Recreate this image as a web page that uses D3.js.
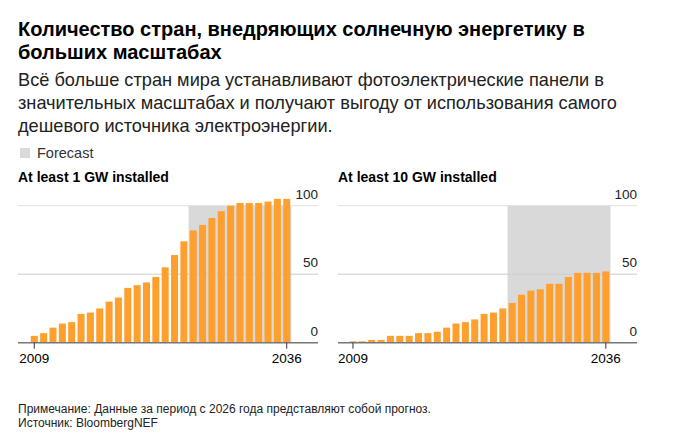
<!DOCTYPE html><html><head><meta charset="utf-8"><script src="https://cdn.jsdelivr.net/npm/d3@7"></script>
<style>body{margin:0;background:#fff;font-family:"Liberation Sans",Arial,sans-serif}</style></head><body><svg id="c" width="685" height="444"></svg>
<script>
const years = d3.range(2009, 2037);
const oneGW = [5,7,11,14,15,21,22,25,30,33,40,42,44,48,55,64,74,82,86,91,96,100,102,102,102,103,105,105];
const tenGW = [1,1,2,2,5,5,5,7,7,8,11,14,15,17,21,22,25,29,35,38,39,43,43,48,51,51,51,52];
const yTicks = [0,50,100];
const forecastStart = 2026;
const panels = [{title:"At least 1 GW installed", values:oneGW, gx0:18, gx1:318, bx0:29.6, bx1:291.4},
                {title:"At least 10 GW installed", values:tenGW, gx0:338, gx1:637, bx0:348.3, bx1:610.5}];
const svg = d3.select("#c");
const txt=(x,y,s,o={})=>svg.append("text").attr("x",x).attr("y",y).text(s).attr("font-size",o.size||13).attr("font-weight",o.w||"normal").attr("fill",o.fill||"#000").attr("text-anchor",o.a||"start");
txt(18,36,"Количество стран, внедряющих солнечную энергетику в",{size:20,w:"bold"});
txt(18,59,"больших масштабах",{size:20,w:"bold"});
["Всё больше стран мира устанавливают фотоэлектрические панели в","значительных масштабах и получают выгоду от использования самого","дешевого источника электроэнергии."].forEach((s,i)=>txt(18,86+i*23,s,{size:18.2,fill:"#222"}));
svg.append("rect").attr("x",20).attr("y",148).attr("width",10).attr("height",10).attr("fill","#d9d9d9");
txt(37,158,"Forecast",{size:14.5,fill:"#333"});
txt(18,413,"Примечание: Данные за период с 2026 года представляют собой прогноз.",{size:12,fill:"#222"});
txt(18,427,"Источник: BloombergNEF",{size:12,fill:"#222"});
const y = d3.scaleLinear().domain([0,100]).range([342.7,205.7]);
panels.forEach(p=>{
  txt(p.gx0,182,p.title,{size:14,w:"bold"});
  const x = d3.scaleBand().domain(years).range([p.bx0,p.bx1]).paddingInner(0.25).paddingOuter(0.125);
  const g = svg.append("g");
  g.append("rect").attr("x",x(forecastStart)-x.step()*0.125).attr("y",y(100)).attr("width",x(2036)+x.bandwidth()+x.step()*0.125-(x(forecastStart)-x.step()*0.125)).attr("height",y(0)-y(100)).attr("fill","#d9d9d9");
  yTicks.filter(t=>t>0).forEach(t=>g.append("line").attr("x1",p.gx0).attr("x2",p.gx1).attr("y1",y(t)).attr("y2",y(t)).attr("stroke",t===100?"#e0e0e0":"#ccc").attr("stroke-width",1));
  yTicks.forEach(t=>g.append("text").attr("x",p.gx1).attr("y",y(t)-7).attr("text-anchor","end").attr("font-size",13.5).attr("fill","#222").text(t));
  g.selectAll(".b").data(p.values).join("rect").attr("x",(d,i)=>x(years[i])).attr("width",x.bandwidth()).attr("y",d=>y(d)).attr("height",d=>y(0)-y(d)).attr("fill","#ffa02e");
  g.append("line").attr("x1",p.gx0).attr("x2",p.gx1).attr("y1",y(0)).attr("y2",y(0)).attr("stroke","#777").attr("stroke-width",1.5);
  [2009,2036].forEach((yr,i)=>{const cx=x(yr)+x.bandwidth()/2;
    g.append("line").attr("x1",cx).attr("x2",cx).attr("y1",y(0)).attr("y2",y(0)+6).attr("stroke","#333");
    g.append("text").attr("x",i?cx+15:cx-15).attr("y",363).attr("text-anchor",i?"end":"start").attr("font-size",13.5).text(yr);});
});
</script></body></html>
